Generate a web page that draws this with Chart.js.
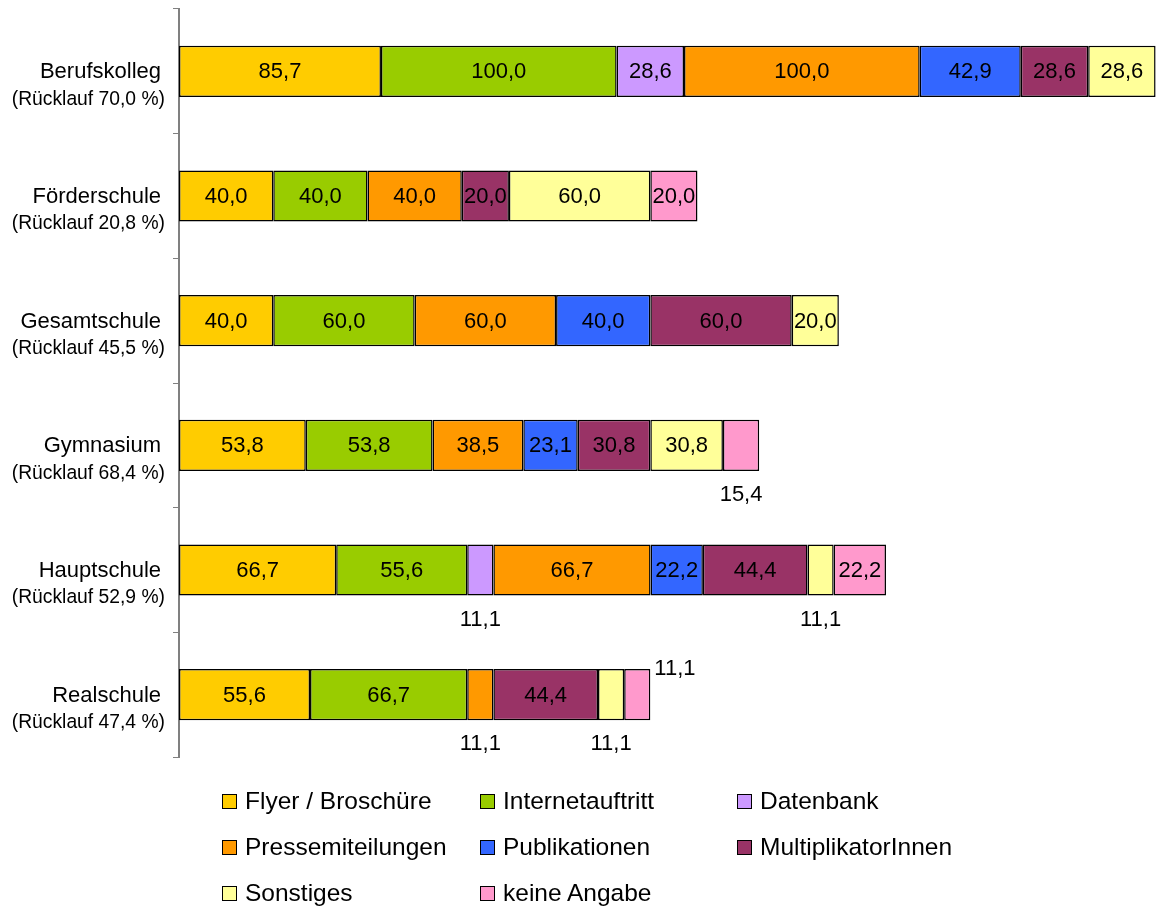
<!DOCTYPE html>
<html lang="de">
<head>
<meta charset="utf-8">
<title>Öffentlichkeitsarbeit nach Schulform</title>
<script src="https://cdn.jsdelivr.net/npm/chart.js@4.4.1/dist/chart.umd.min.js"></script>
<style>
  html, body { margin: 0; padding: 0; background: #fff; }
  body { width: 1157px; height: 909px; position: relative; overflow: hidden;
         font-family: "Liberation Sans", Arial, sans-serif; }
  #chart { position: absolute; left: 0; top: 0; }
  #legend { position: absolute; left: 222px; top: 778px;
            display: grid; grid-template-columns: 258px 257px auto; grid-auto-rows: 46px; }
  .item { display: flex; align-items: center; font-size: 24.5px; color: #000; white-space: nowrap; }
  .swatch { width: 13px; height: 13px; border: 1.5px solid #000; margin-right: 8px; box-sizing: content-box; }
</style>
</head>
<body>
<canvas id="chart" width="1157" height="909"></canvas>
<div id="legend"></div>
<script>
// Schulformen and their response rates
const categories = ['Berufskolleg', 'Förderschule', 'Gesamtschule', 'Gymnasium', 'Hauptschule', 'Realschule'];
const ruecklauf = ['70,0', '20,8', '45,5', '68,4', '52,9', '47,4'];

// Share of schools using each channel (in %)
const seriesNames = ['Flyer / Broschüre', 'Internetauftritt', 'Datenbank', 'Pressemiteilungen',
                     'Publikationen', 'MultiplikatorInnen', 'Sonstiges', 'keine Angabe'];
const flyer          = [85.7, 40.0, 40.0, 53.8, 66.7, 55.6];
const internet       = [100.0, 40.0, 60.0, 53.8, 55.6, 66.7];
const datenbank      = [28.6, 0, 0, 0, 11.1, 0];
const presse         = [100.0, 40.0, 60.0, 38.5, 66.7, 11.1];
const publikationen  = [42.9, 0, 40.0, 23.1, 22.2, 0];
const multiplikatoren = [28.6, 20.0, 60.0, 30.8, 44.4, 44.4];
const sonstiges      = [28.6, 60.0, 20.0, 30.8, 11.1, 11.1];
const keineAngabe    = [0, 20.0, 0, 15.4, 22.2, 11.1];

const seriesValues = [flyer, internet, datenbank, presse, publikationen, multiplikatoren, sonstiges, keineAngabe];
const seriesColors = ['#FFCC00', '#99CC00', '#CC99FF', '#FF9900', '#3366FF', '#993366', '#FFFF99', '#FF99CC'];

const FONT = '"Liberation Sans", Arial, sans-serif';
const fmt = v => v.toFixed(1).replace('.', ',');

// Two-line category labels: school type plus response rate
const categoryLabels = {
  id: 'categoryLabels',
  afterDraw(chart) {
    const { ctx, scales: { y } } = chart;
    ctx.save();
    ctx.fillStyle = '#000';
    ctx.textAlign = 'right';
    ctx.textBaseline = 'middle';
    categories.forEach((name, i) => {
      const py = y.getPixelForValue(i);
      ctx.font = '22px ' + FONT;
      ctx.fillText(name, 161, py + 1);
      ctx.font = '19.3px ' + FONT;
      ctx.fillText('(Rücklauf ' + ruecklauf[i] + ' %)', 165, py + 28);
    });
    ctx.restore();
  }
};

// Value labels: centred in the segment, or outside when the segment is too narrow
const valueLabels = {
  id: 'valueLabels',
  afterDatasetsDraw(chart) {
    const { ctx } = chart;
    ctx.save();
    ctx.font = '22px ' + FONT;
    ctx.fillStyle = '#000';
    ctx.textBaseline = 'middle';
    categories.forEach((_, i) => {
      let lastBelowRight = -Infinity;
      let barEnd = 0;
      chart.data.datasets.forEach((ds, d) => {
        const el = chart.getDatasetMeta(d).data[i];
        if (el && ds.data[i] != null) barEnd = Math.max(barEnd, el.x, el.base);
      });
      chart.data.datasets.forEach((ds, d) => {
        const v = ds.data[i];
        if (v == null) return;
        const el = chart.getDatasetMeta(d).data[i];
        const { x, y, base, height } = el.getProps(['x', 'y', 'base', 'height'], true);
        const left = Math.min(x, base), right = Math.max(x, base);
        const text = fmt(v);
        const tw = ctx.measureText(text).width;
        const cx = (left + right) / 2;
        if (tw + 2 <= right - left) {
          ctx.textAlign = 'center';
          ctx.fillText(text, cx, y + 1);
        } else if (cx - tw / 2 > lastBelowRight + 4) {
          ctx.textAlign = 'center';
          ctx.fillText(text, cx, y + height / 2 + 24);
          lastBelowRight = cx + tw / 2;
        } else {
          ctx.textAlign = 'left';
          ctx.fillText(text, barEnd + 4, y - height / 2);
        }
      });
    });
    ctx.restore();
  }
};

const datasets = seriesNames.map((name, k) => ({
  label: name,
  data: seriesValues[k].map(v => (v ? v : null)),
  backgroundColor: seriesColors[k],
  borderColor: '#000',
  borderWidth: 1.5,
  borderSkipped: false,
  barPercentage: 0.41,
  categoryPercentage: 1
}));

new Chart(document.getElementById('chart'), {
  type: 'bar',
  data: { labels: categories, datasets },
  options: {
    indexAxis: 'y',
    responsive: false,
    animation: false,
    devicePixelRatio: 1,
    layout: { padding: { left: 0, top: 9, right: 0, bottom: 152 } },
    plugins: { legend: { display: false }, tooltip: { enabled: false } },
    scales: {
      x: { stacked: true, display: false, min: 0, max: 415 },
      y: {
        stacked: true,
        ticks: { display: false },
        grid: { drawOnChartArea: false, drawTicks: true, tickLength: 6, color: '#808080', lineWidth: 1 },
        border: { display: true, color: '#808080', width: 2 },
        afterFit(scale) { scale.width = 179; }
      }
    }
  },
  plugins: [valueLabels, categoryLabels]
});

// Legend, three columns
const legend = document.getElementById('legend');
seriesNames.forEach((name, k) => {
  const item = document.createElement('div');
  item.className = 'item';
  const sw = document.createElement('span');
  sw.className = 'swatch';
  sw.style.background = seriesColors[k];
  item.appendChild(sw);
  item.appendChild(document.createTextNode(name));
  legend.appendChild(item);
});
</script>
</body>
</html>
